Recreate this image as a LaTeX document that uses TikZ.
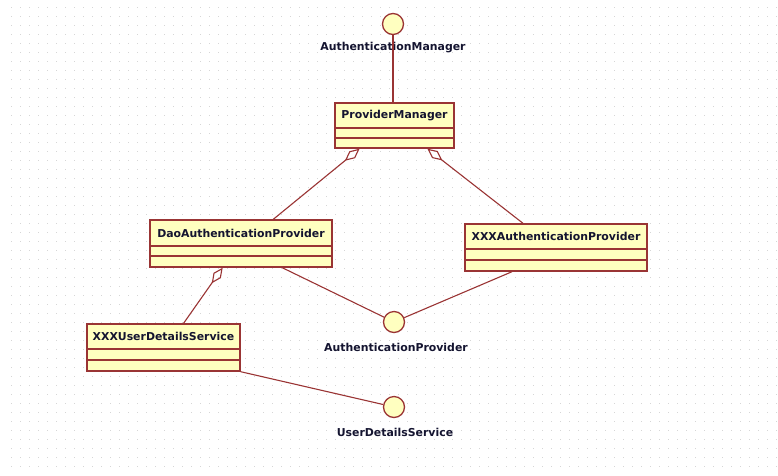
\documentclass[tikz,border=0pt]{standalone}
\usepackage{fontspec}
\setmainfont{DejaVu Sans}
\usetikzlibrary{arrows.meta,fit,calc}
\definecolor{umlfill}{HTML}{FFFFC0}
\definecolor{umlline}{HTML}{9A3434}
\definecolor{umltext}{HTML}{141430}
\definecolor{griddot}{HTML}{D6D6D6}
\newcommand\umlclass[8]{%
  \coordinate (#1-nw) at (#2,#3);
  \coordinate (#1-se) at (#4,#5);
  \node[classbox, fit=(#1-nw)(#1-se)] (#1) {};
  \draw[divider] (#2,#6) -- (#4,#6);
  \draw[divider] (#2,#7) -- (#4,#7);
  \node[lbl] (#1-name) at ({(#2+#4)/2},{(#3+#6)/2}) {#8};
}
\tikzset{
  classbox/.style={draw=umlline, fill=umlfill, line width=1.4pt, inner sep=0pt, rectangle},
  divider/.style={draw=umlline, line width=1.2pt},
  lbl/.style={text=umltext, font=\bfseries\fontsize{10.9}{12}\selectfont, inner sep=0pt},
  iface/.style={circle, draw=umlline, fill=umlfill, line width=1.3pt, minimum size=21pt, inner sep=0pt},
  conn/.style={draw=umlline, line width=1.1pt},
  agg/.style={conn, -{Diamond[open, length=19pt, width=9pt]}}
}
\begin{document}
\begin{tikzpicture}[x=1pt,y=-1pt]
\useasboundingbox (0,0) rectangle (778,475);
\fill[white] (0,0) rectangle (778,475);
\foreach \i in {0,...,85}{
  \foreach \j in {0,...,51}{
    \fill[griddot] ({10.5+9*\i},{6.5+9*\j}) rectangle ++(1.2,1.2);
  }
}
% interfaces
\node[iface] (am) at (393,24) {};
\node[iface] (ap) at (394,322) {};
\node[iface] (uds) at (394,407) {};
\node[lbl] (am-lbl) at (393,48) {AuthenticationManager};
\node[lbl] (ap-lbl) at (396,347) {AuthenticationProvider};
\node[lbl] (uds-lbl) at (395,432) {UserDetailsService};
% classes
\umlclass{pm}{335}{103}{454}{148}{128}{138}{ProviderManager}
\umlclass{dao}{150}{220}{332}{267}{246}{256}{DaoAuthenticationProvider}
\umlclass{xa}{465}{224}{647}{271}{249}{260}{XXXAuthenticationProvider}
\umlclass{xu}{87}{324}{240}{371}{349}{360}{XXXUserDetailsService}
% connectors
\draw[conn] (am) -- (am |- pm.north);
\draw[agg] ($(dao.north west)!0.676!(dao.north east)$) -- ($(pm.south west)!0.21!(pm.south east)$);
\draw[agg] ($(xa.north west)!0.32!(xa.north east)$) -- ($(pm.south west)!0.773!(pm.south east)$);
\draw[agg] ($(xu.north west)!0.63!(xu.north east)$) -- ($(dao.south west)!0.40!(dao.south east)$);
\draw[conn] ($(dao.south west)!0.725!(dao.south east)$) -- (ap);
\draw[conn] ($(xa.south west)!0.26!(xa.south east)$) -- (ap);
\draw[conn] (xu.south east) -- (uds);
\end{tikzpicture}
\end{document}
